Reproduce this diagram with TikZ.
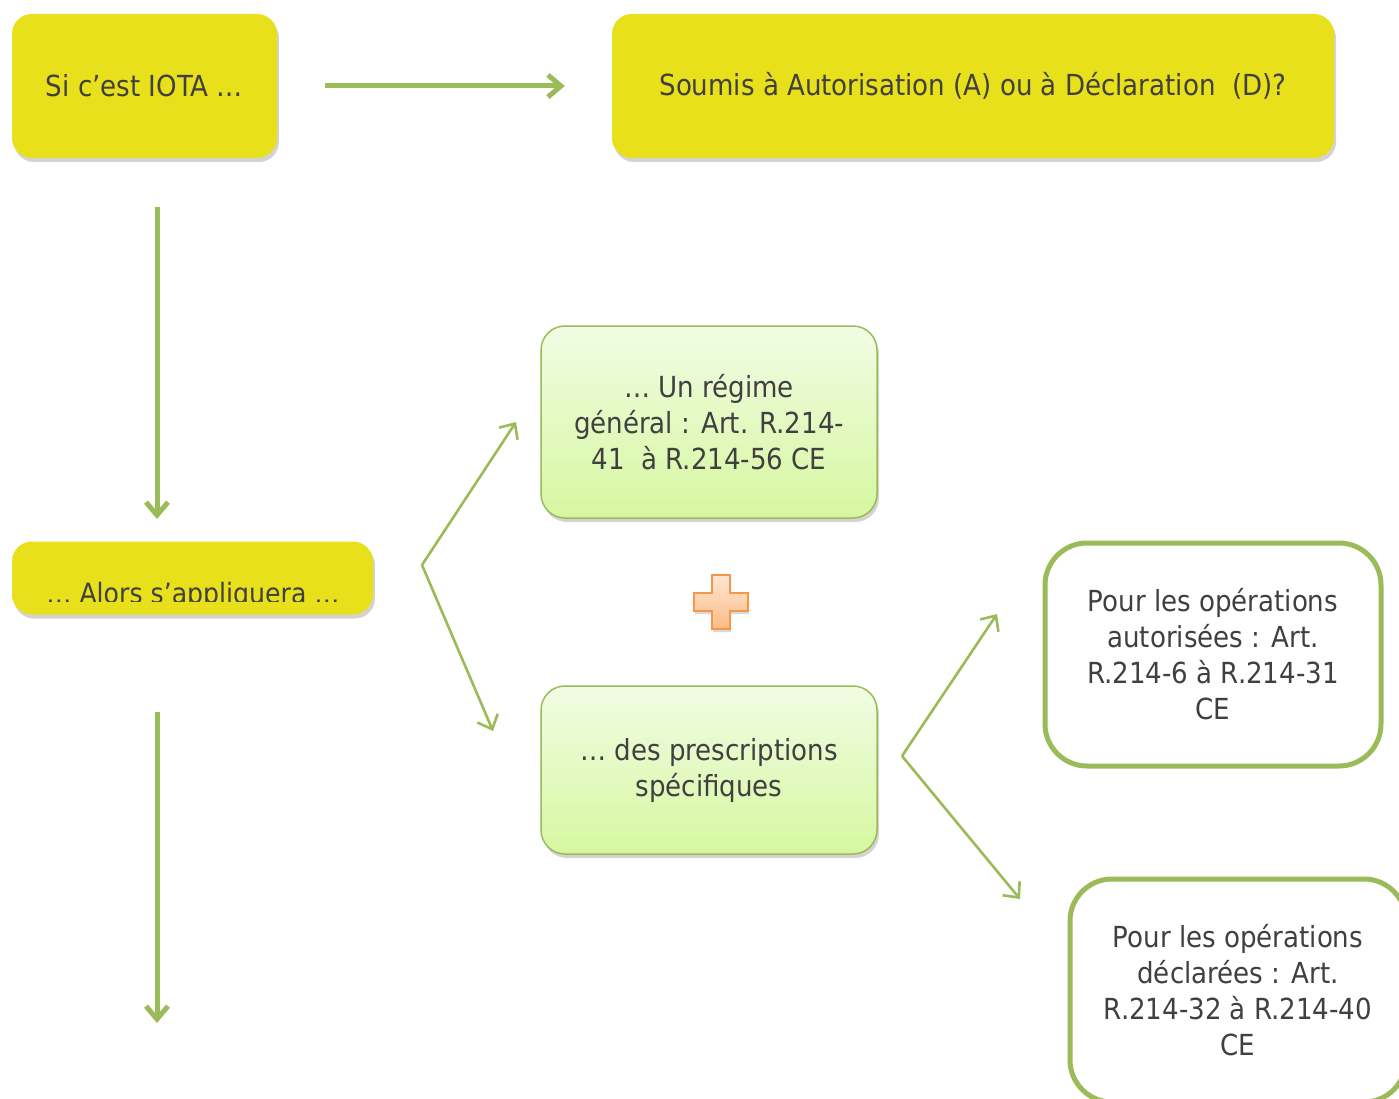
\documentclass[tikz,border=0pt]{standalone}
\usepackage{xcolor}
\usepackage{fontspec}
\setmainfont{DejaVu Sans Condensed}
\usetikzlibrary{arrows.meta,shadows}

\definecolor{iotayellow}{RGB}{232,224,26}
\definecolor{arrowgreen}{RGB}{155,187,89}
\definecolor{textgrey}{RGB}{64,64,64}
\definecolor{lighttop}{RGB}{241,252,228}
\definecolor{lightbottom}{RGB}{214,247,160}
\definecolor{plusedge}{RGB}{247,150,70}
\definecolor{plustop}{RGB}{254,230,210}
\definecolor{plusbottom}{RGB}{251,188,134}

\begin{document}
\begin{tikzpicture}[x=1pt,y=-1pt,
	every node/.style={text=textgrey, font=\fontsize{29}{36}\selectfont, align=center, inner sep=0pt},
	yellowbox/.style={fill=iotayellow, rounded corners=20pt,
		drop shadow={shadow xshift=2pt, shadow yshift=-4pt, opacity=0.35}},
	greenbox/.style={draw=arrowgreen, line width=1.5pt, top color=lighttop, bottom color=lightbottom,
		rounded corners=24pt, minimum width=336pt,
		drop shadow={shadow xshift=2pt, shadow yshift=-4pt, opacity=0.35}},
	whitebox/.style={draw=arrowgreen, line width=5pt, fill=white, rounded corners=42pt,
		minimum width=336pt, minimum height=223pt},
	bigarrow/.style={draw=arrowgreen, line width=5pt, -{Straight Barb[length=13pt,width=22pt]}},
	thinarrow/.style={draw=arrowgreen, line width=2.6pt, -{Straight Barb[length=12pt,width=22pt]}}]

	\useasboundingbox (0,0) rectangle (1399,1099);

	% top row
	\node[yellowbox, minimum width=265pt, minimum height=144pt] (iota) at (144.5,86) {Si c’est IOTA …};
	\node[yellowbox, minimum width=722pt, minimum height=144pt] (soumis) at (973,86)
		{Soumis à Autorisation (A) ou à Déclaration\ \ (D)?};
	\draw[bigarrow, shorten <=48pt, shorten >=47pt] (iota) -- (soumis);

	% left column
	\node[yellowbox, minimum width=361pt, minimum height=73pt] (alors) at (192.5,578) {};
	\begin{scope}
		\clip (12,541) rectangle (373,601);
		\node[anchor=base, font=\fontsize{28}{36}\selectfont] (alors-label) at (193,603) {… Alors s’appliquera …};
	\end{scope}

	\coordinate (down1a) at (157,207);
	\coordinate (down1b) at (157,519);
	\coordinate (down2a) at (157,712);
	\coordinate (down2b) at (157,1023);
	\draw[bigarrow] (down1a) -- (down1b);
	\draw[bigarrow] (down2a) -- (down2b);

	% middle column
	\node[greenbox, minimum height=192pt] (general) at (709,422)
		{… Un régime\\général : Art. R.214-\\41\ \ à R.214-56 CE};
	\node[greenbox, minimum height=168pt] (specif) at (709,770)
		{… des prescriptions\\spécifiques};

	\draw[draw=plusedge, line width=1.5pt, top color=plustop, bottom color=plusbottom,
		drop shadow={shadow xshift=1pt, shadow yshift=-3pt, opacity=0.3}]
		(712,575) -- (730,575) -- (730,593) -- (748,593) -- (748,611) -- (730,611)
		-- (730,629) -- (712,629) -- (712,611) -- (694,611) -- (694,593) -- (712,593) -- cycle;

	\coordinate (fork1) at (422,565);
	\coordinate (fork1a) at (516,422);
	\coordinate (fork1b) at (493,731);
	\draw[thinarrow] (fork1) -- (fork1a);
	\draw[thinarrow] (fork1) -- (fork1b);

	% right column
	\node[whitebox] (autor) at (1213,654.5)
		{Pour les opérations\\autorisées : Art.\\R.214-6 à R.214-31\\CE};
	\node[whitebox] (declar) at (1238,990.5)
		{Pour les opérations\\déclarées : Art.\\R.214-32 à R.214-40\\CE};

	\coordinate (fork2) at (902,756);
	\coordinate (fork2a) at (997,614);
	\coordinate (fork2b) at (1020,899);
	\draw[thinarrow] (fork2) -- (fork2a);
	\draw[thinarrow] (fork2) -- (fork2b);

\end{tikzpicture}
\end{document}
